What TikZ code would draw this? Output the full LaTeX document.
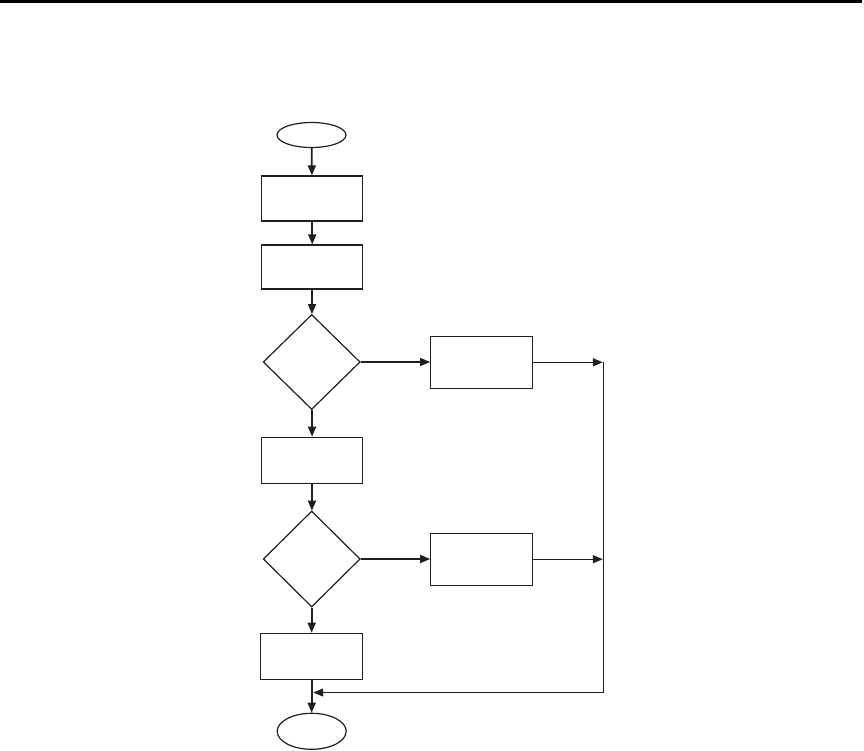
\documentclass[tikz,border=0pt]{standalone}
\usetikzlibrary{shapes.geometric,arrows.meta}
\begin{document}
\begin{tikzpicture}[x=1pt,y=-1pt,
  shp/.style={draw=black!88,line width=1.2pt,inner sep=0pt},
  oval/.style={shp,ellipse,minimum width=69pt},
  procbox/.style={shp,rectangle,minimum width=101pt},
  decision/.style={shp,diamond,minimum width=97pt,minimum height=95pt},
  arr/.style={draw=black!88,line width=1.7pt,-{Triangle[length=10pt,width=8pt]}},
  harr/.style={draw=black!88,line width=1.3pt,-{Triangle[length=10pt,width=8pt]}},
  ln/.style={draw=black!88,line width=1.3pt}]
\useasboundingbox (0,0) rectangle (864,751);
\fill[black] (0,0) rectangle (862,3.5);
\node[oval,minimum height=25pt] (start) at (311.5,135) {};
\node[procbox,minimum height=45pt] (b1) at (312.2,198.5) {};
\node[procbox,minimum height=44pt] (b2) at (312.2,267) {};
\node[decision] (d1) at (311.7,362) {};
\node[shp,rectangle,minimum width=102pt,minimum height=52pt] (r1) at (481.8,362.3) {};
\node[procbox,minimum height=46pt] (b3) at (312.2,460.3) {};
\node[decision,minimum height=96pt] (d2) at (311.7,559) {};
\node[shp,rectangle,minimum width=102pt,minimum height=52pt] (r2) at (481.8,559.2) {};
\node[procbox,minimum width=102pt,minimum height=46pt] (b4) at (311.7,656.3) {};
\node[oval,minimum height=36pt] (end) at (311.7,731.3) {};
\coordinate (vtop) at (603.5,362);
\coordinate (vbot) at (603.5,692.5);
\coordinate (j1) at (602.8,362.3);
\coordinate (j2) at (602.8,559.2);
\coordinate (fb) at (313.2,692.5);
\draw[arr] (start) -- (b1);
\draw[arr] (b1) -- (b2);
\draw[arr] (b2) -- (d1);
\draw[harr] (d1.east) -- (d1.east -| r1.west);
\draw[harr] (r1) -- (j1);
\draw[arr] (d1) -- (b3);
\draw[arr] (b3) -- (d2);
\draw[harr] (d2.east) -- (d2.east -| r2.west);
\draw[harr] (r2) -- (j2);
\draw[arr] (d2) -- (b4);
\draw[arr] (b4) -- (end);
\draw[ln] (vtop) -- (vbot);
\draw[harr] (vbot) -- (fb);
\end{tikzpicture}
\end{document}
